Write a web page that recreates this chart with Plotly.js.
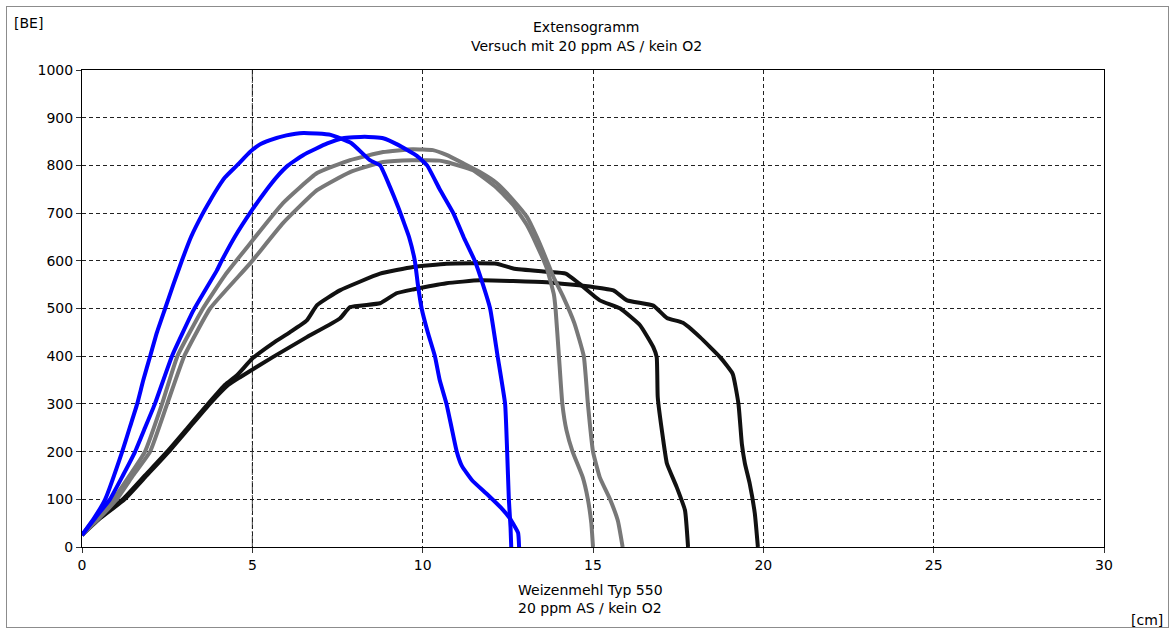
<!DOCTYPE html>
<html>
<head>
<meta charset="utf-8">
<script src="https://cdn.plot.ly/plotly-3.0.1.min.js"></script>
<style>
html,body{margin:0;padding:0;background:#fff;}
#wrap{position:relative;width:1173px;height:630px;}
#chart{width:1173px;height:630px;}
#frame{position:absolute;left:6px;top:6px;width:1161px;height:620px;border:1px solid #8c8c8c;pointer-events:none;}
</style>
</head>
<body>
<div id="wrap"><div id="chart"></div><div id="frame"></div></div>
<script>
// Extensogram curves: x = extension [cm], y = resistance [BE]
const blue1X = [0,0.35,0.68,1.18,1.4,1.62,1.8,2.0,2.2,2.44,2.68,2.93,3.2,3.55,3.75,3.96,4.2,4.55,4.93,5.2,5.52,6.0,6.5,7.3,7.9,8.45,8.75,9.04,9.28,9.45,9.6,9.77,9.86,9.97,10.15,10.36,10.5,10.7,10.85,11.0,11.15,11.45,11.9,12.33,12.56,12.8,12.83];
const blue1Y = [25,60,100,200,250,300,350,400,450,500,550,600,650,700,725,750,775,800,828,843,853,863,868,864,847,811,800,755,713,680,650,600,550,500,450,400,350,300,250,200,170,140,110,80,60,30,0];

const blue2X = [0,0.4,0.82,1.2,1.56,1.85,2.14,2.64,3.27,3.96,4.1,4.5,4.93,5.43,5.72,6.05,6.5,7.2,7.66,8.3,8.84,9.28,9.83,10.13,10.5,10.9,11.2,11.53,11.77,11.98,12.2,12.42,12.48,12.53,12.58,12.6];
const blue2Y = [25,62,100,150,200,250,300,400,496,580,600,652,700,750,776,800,822,846,857,860,857,843,820,800,750,700,650,600,550,500,400,300,200,100,40,0];

const gray1X = [0,0.45,0.92,1.4,1.85,2.35,2.8,3.55,4.2,4.93,5.9,6.9,7.87,8.84,9.7,10.3,10.7,11.2,11.68,12.17,12.66,13.06,13.35,13.6,13.84,14.13,14.45,14.73,14.85,15.0,15.2,15.5,15.73,15.87];
const gray1Y = [25,60,100,150,200,300,400,500,570,636,721,784,811,828,834,832,822,804,786,763,727,692,650,608,566,524,470,400,300,200,146,100,55,0];

const gray2X = [0,0.5,1.02,1.5,2.0,2.5,3.0,3.76,4.93,5.9,6.9,7.87,8.84,9.7,10.5,10.7,11.48,12.17,12.66,13.06,13.35,13.64,13.85,13.9,14.0,14.1,14.22,14.4,14.7,14.85,14.95,15.0];
const gray2Y = [25,60,100,150,200,300,400,500,594,679,748,786,807,811,810,807,790,753,717,675,633,585,530,500,400,300,245,200,146,100,50,0];

const black1X = [0,0.5,1.2,1.85,2.5,3.1,3.7,4.2,4.55,5.0,5.6,6.1,6.6,6.9,7.57,8.75,9.72,10.7,12.17,12.66,13.64,14.2,14.6,15.2,15.8,16.38,16.77,16.87,16.9,17.05,17.17,17.46,17.7,17.79];
const black1Y = [25,60,100,150,200,250,300,340,360,395,427,450,475,507,538,573,587,594,594,584,577,573,552,517,500,465,419,398,314,230,175,125,77,0];

const black2X = [0,0.5,1.25,1.9,2.55,3.15,3.75,4.3,4.64,5.6,6.6,7.57,7.87,8.75,9.23,9.72,10.7,11.68,13.64,15.0,15.6,16.0,16.77,17.17,17.64,18.14,18.73,19.1,19.27,19.37,19.46,19.6,19.75,19.84];
const black2Y = [25,58,100,150,200,250,300,340,356,398,440,479,503,511,532,540,553,559,555,545,538,517,506,480,470,440,398,363,300,216,175,133,70,0];

const xTicks = [0,5,10,15,20,25,30];
const yTicks = [0,100,200,300,400,500,600,700,800,900,1000];

const FONT = 'DejaVu Sans, sans-serif';
const mk = (x, y, c) => ({x: x, y: y, type: 'scatter', mode: 'lines', line: {color: c, width: 4, shape: 'spline', smoothing: 0.4}, hoverinfo: 'skip', showlegend: false});
const data = [
  mk(black1X, black1Y, '#111111'),
  mk(black2X, black2Y, '#111111'),
  mk(gray1X, gray1Y, '#787878'),
  mk(gray2X, gray2Y, '#787878'),
  mk(blue1X, blue1Y, '#0000ff'),
  mk(blue2X, blue2Y, '#0000ff')
];

// pixel -> paper helpers (plot area 82..1104 x 70..547)
const px = v => (v - 82) / 1022;
const py = v => (547 - v) / 477;
const ann = (text, x, y, xa) => ({text: text, xref: 'paper', yref: 'paper', x: px(x), y: py(y), xanchor: xa || 'center', yanchor: 'middle', showarrow: false, font: {family: FONT, size: 14, color: '#000'}});

const layout = {
  width: 1173, height: 630,
  margin: {l: 82, r: 69, t: 70, b: 83},
  paper_bgcolor: '#fff', plot_bgcolor: '#fff',
  font: {family: FONT, size: 14, color: '#000'},
  xaxis: {
    range: [0, 30], tickvals: xTicks, ticktext: xTicks.map(String),
    showline: true, linecolor: '#000', linewidth: 1, mirror: true,
    ticks: 'outside', ticklen: 5, tickcolor: '#333',
    showgrid: true, gridcolor: '#222', gridwidth: 1, griddash: '4px,3px',
    zeroline: false, tickfont: {family: FONT, size: 14, color: '#000'}
  },
  yaxis: {
    range: [0, 1000], tickvals: yTicks, ticktext: yTicks.map(String),
    showline: true, linecolor: '#000', linewidth: 1, mirror: true,
    ticks: 'outside', ticklen: 5, tickcolor: '#333',
    showgrid: true, gridcolor: '#222', gridwidth: 1, griddash: '4px,3px',
    zeroline: false, tickfont: {family: FONT, size: 14, color: '#000'}
  },
  shapes: [
    {type: 'line', xref: 'x', yref: 'paper', x0: 5, x1: 5, y0: 0, y1: 1, layer: 'below', line: {color: '#444', width: 1, dash: '12px,2px,2px,2px'}}
  ],
  annotations: [
    ann('Extensogramm', 586, 27),
    ann('Versuch mit 20 ppm AS / kein O2', 586, 46),
    ann('[BE]', 12, 23, 'left'),
    ann('[cm]', 1165, 620, 'right'),
    ann('Weizenmehl Typ 550', 590, 590),
    ann('20 ppm AS / kein O2', 590, 608)
  ]
};

Plotly.newPlot('chart', data, layout, {staticPlot: true, displayModeBar: false});
</script>
</body>
</html>
